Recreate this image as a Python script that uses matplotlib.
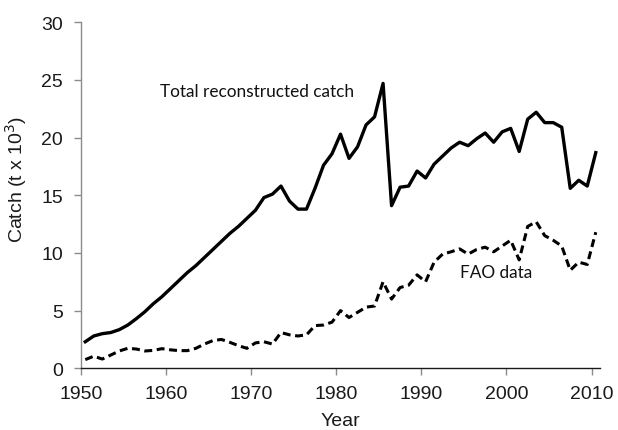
import numpy as np
import matplotlib
matplotlib.use("Agg")
import matplotlib.pyplot as plt

years = np.arange(1950, 2011)
total_catch = [
    2.3, 2.8, 3.0, 3.1, 3.35, 3.75, 4.3, 4.9, 5.6, 6.2,
    6.9, 7.6, 8.3, 8.9, 9.6, 10.3, 11.0, 11.7, 12.3, 13.0,
    13.7, 14.8, 15.1, 15.8, 14.5, 13.8, 13.8, 15.6, 17.6, 18.6,
    20.3, 18.2, 19.2, 21.1, 21.8, 24.7, 14.1, 15.7, 15.8, 17.1,
    16.5, 17.7, 18.4, 19.1, 19.6, 19.3, 19.9, 20.4, 19.6, 20.5,
    20.8, 18.8, 21.6, 22.2, 21.3, 21.3, 20.9, 15.6, 16.3, 15.8, 18.7,
]
fao_catch = [
    0.75, 1.05, 0.8, 1.15, 1.5, 1.73, 1.67, 1.5, 1.55, 1.7,
    1.6, 1.53, 1.53, 1.73, 2.1, 2.4, 2.5, 2.25, 1.96, 1.73,
    2.2, 2.3, 2.1, 3.1, 2.9, 2.8, 2.9, 3.7, 3.75, 4.0,
    5.0, 4.4, 4.85, 5.3, 5.4, 7.5, 6.0, 7.0, 7.2, 8.1,
    7.5, 9.2, 9.9, 10.1, 10.35, 9.9, 10.3, 10.5, 10.1, 10.6,
    11.1, 9.4, 12.3, 12.7, 11.5, 11.1, 10.6, 8.5, 9.2, 9.0, 11.8,
]
x_ticks = [1950, 1960, 1970, 1980, 1990, 2000, 2010]
y_ticks = [0, 5, 10, 15, 20, 25, 30]

plt.rcParams['font.family'] = ['Liberation Sans', 'DejaVu Sans']

fig = plt.figure(figsize=(6.18, 4.31), dpi=100)
ax = fig.add_axes([0.1311, 0.1432, 0.8398, 0.8028])

# values plotted at mid-year
xpos = years + 0.5
ax.plot(xpos, total_catch, color='black', lw=2.4, solid_joinstyle='round')
ax.plot(xpos, fao_catch, color='black', lw=2.2, linestyle=(0, (2.6, 1.5)),
        dash_joinstyle='round')

ax.set_xlim(1950, 2011)
ax.set_ylim(0, 30)
ax.set_xticks(x_ticks)
ax.set_yticks(y_ticks)

for s in ['top', 'right']:
    ax.spines[s].set_visible(False)
ax.spines['left'].set_color('#8c8c8c')
ax.spines['left'].set_linewidth(1.0)
ax.spines['bottom'].set_color('#1a1a1a')
ax.spines['bottom'].set_linewidth(1.0)

ax.tick_params(axis='y', direction='out', length=5, width=1.0, color='#8c8c8c',
               labelsize=14, pad=8, labelcolor='#1a1a1a')
ax.tick_params(axis='x', direction='out', length=5, width=1.0, color='#8c8c8c',
               labelsize=14, pad=7, labelcolor='#1a1a1a')

ax.set_xlabel('Year', fontsize=14, labelpad=7, color='#1a1a1a')
ax.set_ylabel('Catch (t x 10$^3$)', fontsize=14, color='#1a1a1a')
ax.yaxis.set_label_coords(-0.1, 0.55)

ax.text(1959.3, 24.0, 'Total reconstructed catch', fontsize=12.4,
        family=['Lato', 'DejaVu Sans'], va='center', ha='left', color='#111111')
ax.text(1994.6, 8.35, 'FAO data', fontsize=12.4,
        family=['Lato', 'DejaVu Sans'], va='center', ha='left', color='#111111')

fig.savefig('out.png', dpi=100)
